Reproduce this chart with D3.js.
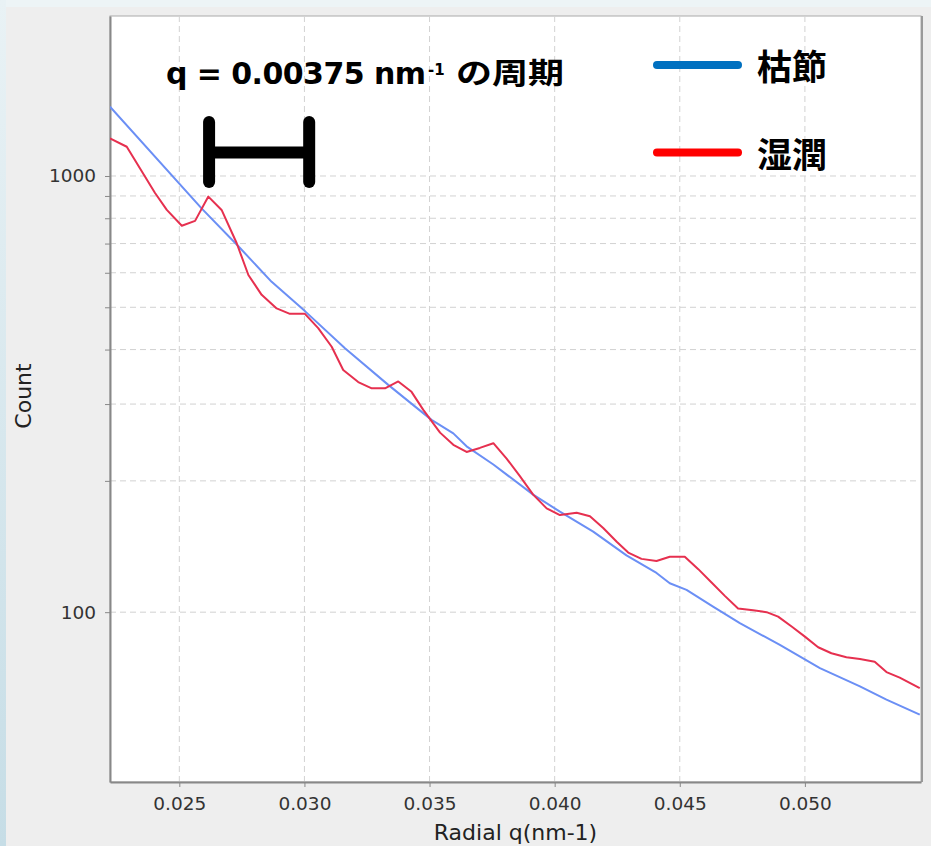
<!DOCTYPE html>
<html>
<head>
<meta charset="utf-8">
<script src="https://cdn.jsdelivr.net/npm/d3@7"></script>
<style>
  body { margin: 0; background: #eaf2f5; }
  svg { display: block; }
  .tick text { font-family: "DejaVu Sans", sans-serif; font-size: 18.5px; fill: #333; }
  .axis-title { font-family: "DejaVu Sans", sans-serif; font-size: 22px; fill: #222; }
</style>
</head>
<body>
<div id="vis"></div>
<script>
// Values
const redQ = [0.02223, 0.02290, 0.02403, 0.02450, 0.02510, 0.02563, 0.02616, 0.02669, 0.02729, 0.02776,
  0.02829, 0.02889, 0.02942, 0.03002, 0.03055, 0.03109, 0.03155, 0.03215, 0.03269, 0.03322,
  0.03375, 0.03428, 0.03475, 0.03542, 0.03595, 0.03648, 0.03701, 0.03755, 0.03808, 0.03861,
  0.03914, 0.03968, 0.04021, 0.04088, 0.04141, 0.04194, 0.04248, 0.04294, 0.04347, 0.04407,
  0.04460, 0.04520, 0.04574, 0.04627, 0.04680, 0.04733, 0.04793, 0.04847, 0.04893, 0.04947,
  0.05000, 0.05053, 0.05106, 0.05166, 0.05220, 0.05279, 0.05326, 0.05379, 0.05459];
const redCount = [1220, 1167, 914, 836, 769, 789, 897, 836, 702, 593,
  534, 497, 483, 483, 448, 406, 359, 337, 326, 326,
  338, 320, 291, 258, 242, 233, 238, 244, 225, 205,
  186, 173, 167, 169, 166, 156, 145, 137, 132.5, 131,
  134, 134, 125.5, 117, 109, 102, 101, 100, 97.7, 92.7,
  87.9, 83.1, 80.5, 78.8, 78.1, 77.0, 72.9, 70.8, 67.0];

const blueQ = [0.02223, 0.02589, 0.02736, 0.02869, 0.03002, 0.03162, 0.03335, 0.03508, 0.03595, 0.03648,
  0.03755, 0.03914, 0.04021, 0.04154, 0.04287, 0.04407, 0.04460, 0.04527, 0.04633, 0.04740,
  0.04900, 0.05060, 0.05220, 0.05326, 0.05459];
const blueCount = [1441, 843, 690, 572, 490, 403, 332, 276, 257, 240,
  218, 186, 170, 153, 135, 123, 116.5, 112.5, 103, 94.4,
  84.1, 74.4, 67.6, 63.0, 58.2];

const xTicks = [0.025, 0.030, 0.035, 0.040, 0.045, 0.050];
const yLabelled = [100, 1000];
const yMinor = [200, 300, 400, 500, 600, 700, 800, 900];
const xDomain = [0.02223, 0.05464];
const yDomain = [40.8, 2327];

// period bracket, in data units
const bracketQ = [0.02619, 0.03019];
const bracketCount = [1330, 1132, 969];

const legendLabels = ['枯節', '湿潤'];
const legendColors = ['#0070c0', '#ff0000'];
const lineColors = ['#6b8ff5', '#e6304f'];

const W = 931, H = 846;
const margin = { top: 16, right: 10, bottom: 64, left: 110 };
const width = W - margin.left - margin.right;
const height = H - margin.top - margin.bottom;

const root = d3.select('#vis').append('svg')
    .attr('width', W)
    .attr('height', H);

// backdrop: light blue strip on the left, grey panel
const defs = root.append('defs');
const grad = defs.append('linearGradient').attr('id', 'strip')
    .attr('x1', 0).attr('y1', 0).attr('x2', 0).attr('y2', 1);
grad.append('stop').attr('offset', '0%').attr('stop-color', '#e9f2f5');
grad.append('stop').attr('offset', '100%').attr('stop-color', '#c6dde6');
root.append('rect').attr('width', W).attr('height', H).attr('fill', '#edf4f6');
root.append('rect').attr('width', 6).attr('height', H).attr('fill', 'url(#strip)');
root.append('rect').attr('x', 6).attr('y', 7).attr('width', W - 6).attr('height', H - 7).attr('fill', '#eeeeee');

defs.append('clipPath').attr('id', 'plotClip')
    .append('rect').attr('width', width).attr('height', height);

const svg = root.append('g')
    .attr('transform', `translate(${margin.left},${margin.top})`);

svg.append('rect')
    .attr('width', width).attr('height', height)
    .attr('fill', '#fff')
    .attr('stroke', '#aaa').attr('stroke-width', 1);

const xScale = d3.scaleLinear().domain(xDomain).range([0, width]);
const yScale = d3.scaleLog().domain(yDomain).range([height, 0]);

// dashed grid
const grid = svg.append('g').attr('stroke', '#d2d2d2').attr('stroke-dasharray', '6,4');
grid.selectAll('.hgrid')
    .data(yLabelled.concat(yMinor))
    .join('line')
    .attr('x1', 0).attr('x2', width)
    .attr('y1', d => yScale(d)).attr('y2', d => yScale(d));
grid.selectAll('.vgrid')
    .data(xTicks)
    .join('line')
    .attr('y1', 0).attr('y2', height)
    .attr('x1', d => xScale(d)).attr('x2', d => xScale(d));

// right edge a bit heavier
svg.append('line')
    .attr('x1', width + 1).attr('x2', width + 1).attr('y1', 0).attr('y2', height)
    .attr('stroke', '#9a9a9a').attr('stroke-width', 2);

// axes
const xAxis = d3.axisBottom(xScale)
    .tickValues(xTicks)
    .tickFormat(d3.format('.3f'))
    .tickSize(5).tickSizeOuter(0).tickPadding(10);
const gx = svg.append('g')
    .attr('class', 'axis x-axis')
    .attr('transform', `translate(0,${height})`)
    .call(xAxis);

const yAxis = d3.axisLeft(yScale)
    .tickValues(yLabelled.concat(yMinor))
    .tickFormat(d => yLabelled.includes(d) ? d : '')
    .tickSize(5).tickSizeOuter(0).tickPadding(9);
const gy = svg.append('g')
    .attr('class', 'axis y-axis')
    .call(yAxis);

[gx, gy].forEach(g => {
    g.select('.domain').attr('stroke', '#888').attr('stroke-width', 2);
    g.selectAll('.tick line').attr('stroke', '#888');
});

svg.append('text')
    .attr('class', 'axis-title')
    .attr('x', width / 2)
    .attr('y', height + 58)
    .attr('text-anchor', 'middle')
    .text('Radial q(nm-1)');

svg.append('text')
    .attr('class', 'axis-title')
    .attr('transform', 'rotate(-90)')
    .attr('x', -height / 2 + 3)
    .attr('y', -margin.left + 31)
    .attr('text-anchor', 'middle')
    .text('Count');

// the two profiles
const line = d3.line()
    .x(d => xScale(d[0]))
    .y(d => yScale(d[1]));

const series = [
    d3.zip(blueQ, blueCount),
    d3.zip(redQ, redCount)
];

svg.append('g').attr('clip-path', 'url(#plotClip)')
    .selectAll('path')
    .data(series)
    .join('path')
    .attr('d', line)
    .attr('fill', 'none')
    .attr('stroke', (d, i) => lineColors[i])
    .attr('stroke-width', 2)
    .attr('stroke-linejoin', 'round');

// period bracket
const bracket = svg.append('g')
    .attr('stroke', '#000')
    .attr('stroke-width', 12)
    .attr('stroke-linecap', 'round');
bracket.selectAll('.bar')
    .data(bracketQ)
    .join('line')
    .attr('x1', d => xScale(d)).attr('x2', d => xScale(d))
    .attr('y1', yScale(bracketCount[0])).attr('y2', yScale(bracketCount[2]));
bracket.append('line')
    .attr('stroke-linecap', 'butt')
    .attr('x1', xScale(bracketQ[0])).attr('x2', xScale(bracketQ[1]))
    .attr('y1', yScale(bracketCount[1])).attr('y2', yScale(bracketCount[1]));

// title annotation
const title = root.append('text')
    .attr('x', 166).attr('y', 84)
    .attr('font-family', '"DejaVu Sans", sans-serif')
    .attr('font-weight', 'bold')
    .attr('fill', '#000');
title.append('tspan')
    .attr('font-size', 30)
    .attr('textLength', 260)
    .attr('lengthAdjust', 'spacing')
    .text('q = 0.00375 nm');
title.append('tspan')
    .attr('x', 428).attr('y', 75)
    .attr('font-size', 15)
    .text('-1');
root.append('text')
    .attr('x', 456).attr('y', 84)
    .attr('font-family', '"Noto Sans CJK JP", sans-serif')
    .attr('font-weight', 'bold')
    .attr('font-size', 29)
    .attr('textLength', 108)
    .attr('lengthAdjust', 'spacingAndGlyphs')
    .text('の周期');

// legend
const legend = root.append('g').selectAll('g')
    .data(legendLabels)
    .join('g')
    .attr('transform', (d, i) => `translate(657,${65 + i * 87.5})`);
legend.append('line')
    .attr('x1', 0).attr('x2', 81)
    .attr('stroke', (d, i) => legendColors[i])
    .attr('stroke-width', 8)
    .attr('stroke-linecap', 'round');
legend.append('text')
    .attr('x', 100).attr('y', 15)
    .attr('font-family', '"Noto Sans CJK JP", sans-serif')
    .attr('font-weight', 'bold')
    .attr('font-size', 35)
    .attr('fill', '#000')
    .text(d => d);
</script>
</body>
</html>
